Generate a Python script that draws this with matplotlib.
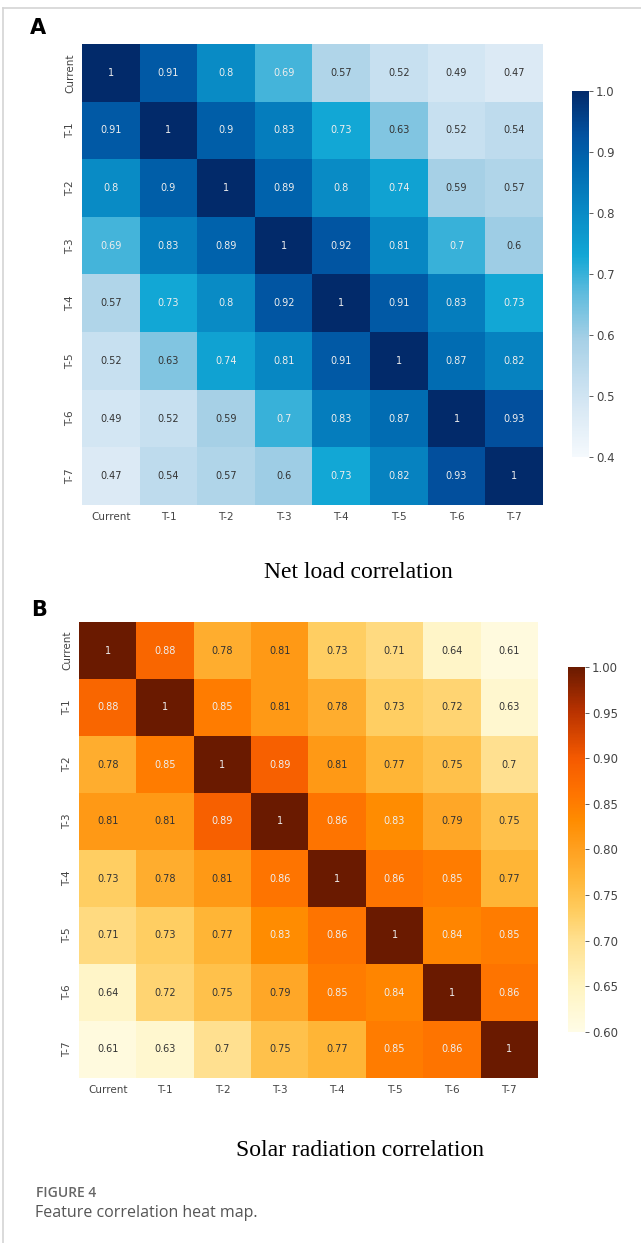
import numpy as np
import matplotlib
matplotlib.use("Agg")
import matplotlib.pyplot as plt
from matplotlib.colors import LinearSegmentedColormap, to_rgb
from matplotlib.lines import Line2D

labels = ["Current", "T-1", "T-2", "T-3", "T-4", "T-5", "T-6", "T-7"]

net_load = [
    [1, 0.91, 0.8, 0.69, 0.57, 0.52, 0.49, 0.47],
    [0.91, 1, 0.9, 0.83, 0.73, 0.63, 0.52, 0.54],
    [0.8, 0.9, 1, 0.89, 0.8, 0.74, 0.59, 0.57],
    [0.69, 0.83, 0.89, 1, 0.92, 0.81, 0.7, 0.6],
    [0.57, 0.73, 0.8, 0.92, 1, 0.91, 0.83, 0.73],
    [0.52, 0.63, 0.74, 0.81, 0.91, 1, 0.87, 0.82],
    [0.49, 0.52, 0.59, 0.7, 0.83, 0.87, 1, 0.93],
    [0.47, 0.54, 0.57, 0.6, 0.73, 0.82, 0.93, 1],
]

solar = [
    [1, 0.88, 0.78, 0.81, 0.73, 0.71, 0.64, 0.61],
    [0.88, 1, 0.85, 0.81, 0.78, 0.73, 0.72, 0.63],
    [0.78, 0.85, 1, 0.89, 0.81, 0.77, 0.75, 0.7],
    [0.81, 0.81, 0.89, 1, 0.86, 0.83, 0.79, 0.75],
    [0.73, 0.78, 0.81, 0.86, 1, 0.86, 0.85, 0.77],
    [0.71, 0.73, 0.77, 0.83, 0.86, 1, 0.84, 0.85],
    [0.64, 0.72, 0.75, 0.79, 0.85, 0.84, 1, 0.86],
    [0.61, 0.63, 0.7, 0.75, 0.77, 0.85, 0.86, 1],
]

ticks_a = [0.4, 0.5, 0.6, 0.7, 0.8, 0.9, 1.0]
ticks_b = [0.60, 0.65, 0.70, 0.75, 0.80, 0.85, 0.90, 0.95, 1.00]

blues = LinearSegmentedColormap.from_list("bl", [
    (0.0, "#f5f9fd"), (0.12, "#dbeaf5"), (0.2, "#c7e0f0"), (0.32, "#a6d0e6"),
    (0.45, "#5dbbdd"), (0.55, "#12a7d5"), (0.68, "#0888c4"), (0.8, "#0068b0"),
    (0.88, "#0252a0"), (1.0, "#022a6a")])
oranges = LinearSegmentedColormap.from_list("or", [
    (0.0, "#fffce6"), (0.12, "#fff4c2"), (0.25, "#ffe08f"), (0.33, "#ffcd60"),
    (0.42, "#ffb638"), (0.5, "#ffa020"), (0.58, "#ff8c00"), (0.65, "#ff7500"),
    (0.75, "#f55a00"), (0.88, "#b83200"), (1.0, "#6a1a00")])

W, H = 641, 1243
fig = plt.figure(figsize=(W / 100, H / 100), dpi=100)


def px_axes(l, t, r, b):
    return fig.add_axes([l / W, 1 - b / H, (r - l) / W, (b - t) / H])


def rel_lum(rgb):
    c = np.array(rgb)
    c = np.where(c <= 0.03928, c / 12.92, ((c + 0.055) / 1.055) ** 2.4)
    return 0.2126 * c[0] + 0.7152 * c[1] + 0.0722 * c[2]


def draw(data, cmap, vmin, vmax, box, cbox, cticks, fmt):
    data = np.array(data, dtype=float)
    ax = px_axes(*box)
    im = ax.imshow(data, cmap=cmap, vmin=vmin, vmax=vmax, aspect="auto",
                   interpolation="nearest")
    for i in range(data.shape[0]):
        for j in range(data.shape[1]):
            v = data[i, j]
            rgb = to_rgb(cmap((v - vmin) / (vmax - vmin)))
            col = "#333333" if rel_lum(rgb) > 0.408 else "#eeeeee"
            ax.text(j, i, f"{v:g}", ha="center", va="center", fontsize=7,
                    color=col)
    ax.set_xticks(range(len(labels)))
    ax.set_xticklabels(labels, fontsize=7.5, color="#444444")
    ax.set_yticks(range(len(labels)))
    ax.set_yticklabels(labels, fontsize=7.5, color="#444444", rotation=90,
                       va="center")
    ax.tick_params(length=0, pad=5)
    for s in ax.spines.values():
        s.set_visible(False)
    cax = px_axes(*cbox)
    cb = fig.colorbar(im, cax=cax, ticks=cticks)
    cb.outline.set_visible(False)
    cb.ax.set_yticklabels([fmt.format(t) for t in cticks])
    cb.ax.tick_params(labelsize=8.5, colors="#444444", length=3, width=0.6,
                      pad=2)
    return ax


draw(net_load, blues, 0.4, 1.0, (82, 44, 543, 505), (572, 91, 589, 457),
     ticks_a, "{:.1f}")
draw(solar, oranges, 0.6, 1.0, (79, 622, 538, 1078), (568, 667, 585, 1032),
     ticks_b, "{:.2f}")

fig.text(358 / W, 1 - 572 / H, "Net load correlation", ha="center",
         va="center", fontsize=17, family="Liberation Serif")
fig.text(360 / W, 1 - 1150 / H, "Solar radiation correlation", ha="center",
         va="center", fontsize=17, family="Liberation Serif")
fig.text(30 / W, 1 - 28 / H, "A", fontsize=15, fontweight="bold",
         family="DejaVu Sans", va="center", ha="left")
fig.text(31 / W, 1 - 610 / H, "B", fontsize=15, fontweight="bold",
         family="DejaVu Sans", va="center", ha="left")
fig.text(36 / W, 1 - 1193 / H, "FIGURE 4", fontsize=10, color="#666666",
         family="Open Sans", fontweight="semibold", va="center", ha="left")
fig.text(35 / W, 1 - 1213 / H, "Feature correlation heat map.", fontsize=11.5,
         color="#555555", family="Open Sans", va="center", ha="left")

fig.add_artist(Line2D([3 / W, 1], [1 - 8 / H, 1 - 8 / H], color="#d4d4d4",
                      lw=1.2, transform=fig.transFigure))
fig.add_artist(Line2D([3 / W, 3 / W], [0, 1 - 8 / H], color="#d4d4d4",
                      lw=1.2, transform=fig.transFigure))

fig.savefig("out.png", dpi=100)
